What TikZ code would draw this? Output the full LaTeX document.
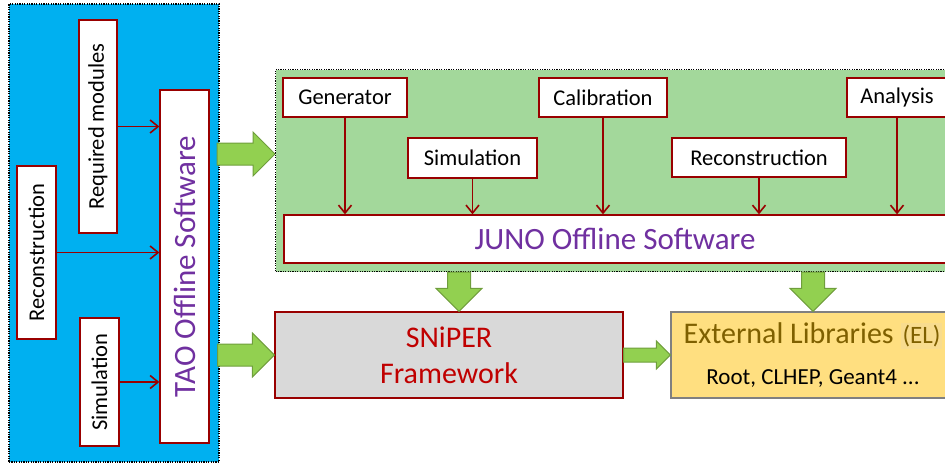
\documentclass[tikz,border=0pt]{standalone}
\usepackage{fontspec}
\setmainfont{Carlito}
\usetikzlibrary{arrows.meta,positioning,calc}
\definecolor{TAOblue}{HTML}{00B0F0}
\definecolor{JUNOgreen}{HTML}{A3D89B}
\definecolor{MODred}{HTML}{990000}
\definecolor{SWpurple}{HTML}{7030A0}
\definecolor{FATgreen}{HTML}{92D050}
\definecolor{FATedge}{HTML}{6F9E3C}
\definecolor{SNPgray}{HTML}{D9D9D9}
\definecolor{SNPred}{HTML}{C00000}
\definecolor{ELgold}{HTML}{FFDF80}
\definecolor{ELbrown}{HTML}{7F6000}
\definecolor{ELhl}{HTML}{F8DC8E}
\newcommand{\labfont}{\fontsize{22.5}{27}\selectfont}
\newcommand{\swfont}{\fontsize{31}{37}\selectfont}
\newcommand{\bigfont}{\fontsize{30}{36}\selectfont}
\setlength{\fboxsep}{2pt}
\tikzset{panel/.style={draw=black,line width=1.2pt,dash pattern=on 1.2pt off 1.2pt,inner sep=0pt},
 modbox/.style={draw=MODred,line width=1.3pt,fill=white,inner sep=0pt,font=\labfont},
 modarr/.style={-{Straight Barb[length=8pt,width=13pt,line width=1.6pt]},line width=1.8pt,draw=MODred},
 fatright/.style={draw=FATedge,line width=1pt,fill=FATgreen,
  to path={let \p1=(\tikztostart),\p2=(\tikztotarget) in
   (\x1,\y1+#1) -- (\x2-2*#1,\y1+#1) -- (\x2-2*#1,\y1+2*#1) -- (\x2,\y1)
   -- (\x2-2*#1,\y1-2*#1) -- (\x2-2*#1,\y1-#1) -- (\x1,\y1-#1) -- cycle}},
 fatdown/.style={draw=FATedge,line width=1pt,fill=FATgreen,
  to path={let \p1=(\tikztostart),\p2=(\tikztotarget) in
   (\x1-#1,\y1) -- (\x1-#1,\y2+2*#1) -- (\x1-2*#1,\y2+2*#1) -- (\x1,\y2)
   -- (\x1+2*#1,\y2+2*#1) -- (\x1+#1,\y2+2*#1) -- (\x1+#1,\y1) -- cycle}}}
\begin{document}
\begin{tikzpicture}[x=1pt,y=-1pt]
\useasboundingbox (0,0) rectangle (945,463);
\clip (0,0) rectangle (945,463);
% TAO side
\node[panel,fill=TAOblue,minimum width=210pt,minimum height=458pt] (taopanel) at (114,233) {};
\node[modbox,minimum width=38pt,minimum height=213pt] (reqmod) at (98,126.5) {\rotatebox{90}{Required modules}};
\node[modbox,minimum width=39pt,minimum height=173pt] (taoreco) at (36.5,252.5) {\rotatebox{90}{Reconstruction}};
\node[modbox,minimum width=39pt,minimum height=128pt] (taosim) at (99.5,382) {\rotatebox{90}{Simulation}};
\node[modbox,minimum width=49pt,minimum height=353pt,text=SWpurple,font=\swfont] (tao) at (184.5,266.5) {\rotatebox{90}{TAO Offline Software}};
\foreach \m in {reqmod,taoreco,taosim}
 \draw[modarr] (\m.east) -- (\m.east -| tao.west);
% JUNO side
\node[panel,fill=JUNOgreen,anchor=north west,minimum width=700pt,minimum height=202pt] (junopanel) at (275,69) {};
\node[modbox,minimum width=124pt,minimum height=39pt] (gen) at (345,97.5) {Generator};
\node[modbox,minimum width=128pt,minimum height=39pt] (calib) at (603,97.5) {Calibration};
\node[modbox,minimum width=100pt,minimum height=39pt] (ana) at (897,97.5) {Analysis};
\node[modbox,minimum width=129pt,minimum height=40pt] (junosim) at (472.5,158) {Simulation};
\node[modbox,minimum width=174pt,minimum height=39pt] (junoreco) at (759,157.5) {Reconstruction};
\node[modbox,minimum width=662pt,minimum height=48pt,text=SWpurple,font=\swfont] (juno) at (615,239) {JUNO Offline Software};
\foreach \m in {gen,junosim,calib,junoreco,ana}
 \draw[modarr] (\m.south) -- (\m.south |- juno.north);
% framework and libraries
\node[draw=MODred,line width=1.3pt,fill=SNPgray,minimum width=348pt,minimum height=86pt,align=center,text=SNPred,font=\bigfont] (sniper) at (449,355) {SNiPER\\Framework};
\node[draw=gray,line width=1.3pt,fill=ELgold,minimum width=284pt,minimum height=86pt,align=center,font=\fontsize{23}{41}\selectfont] (extlib) at (813,355)
 {{\bigfont\color{ELbrown}External Libraries \fontsize{25}{30}\selectfont\colorbox{ELhl}{(EL)}}\\Root, CLHEP, Geant4 ...};
% big green arrows
\coordinate (taoexit) at (217,154);
\draw[fatright=11pt] (taoexit) to (taoexit -| junopanel.west);
\draw[fatright=11pt] ([xshift=-2pt]taopanel.east |- sniper.west) to (sniper.west);
\draw[fatdown=11.5pt] ([xshift=10pt]sniper.north |- junopanel.south) to ([xshift=10pt]sniper.north);
\draw[fatdown=11.5pt] (extlib.north |- junopanel.south) to (extlib.north);
\draw[fatright=7pt] (sniper.east) to (extlib.west);
\end{tikzpicture}
\end{document}
